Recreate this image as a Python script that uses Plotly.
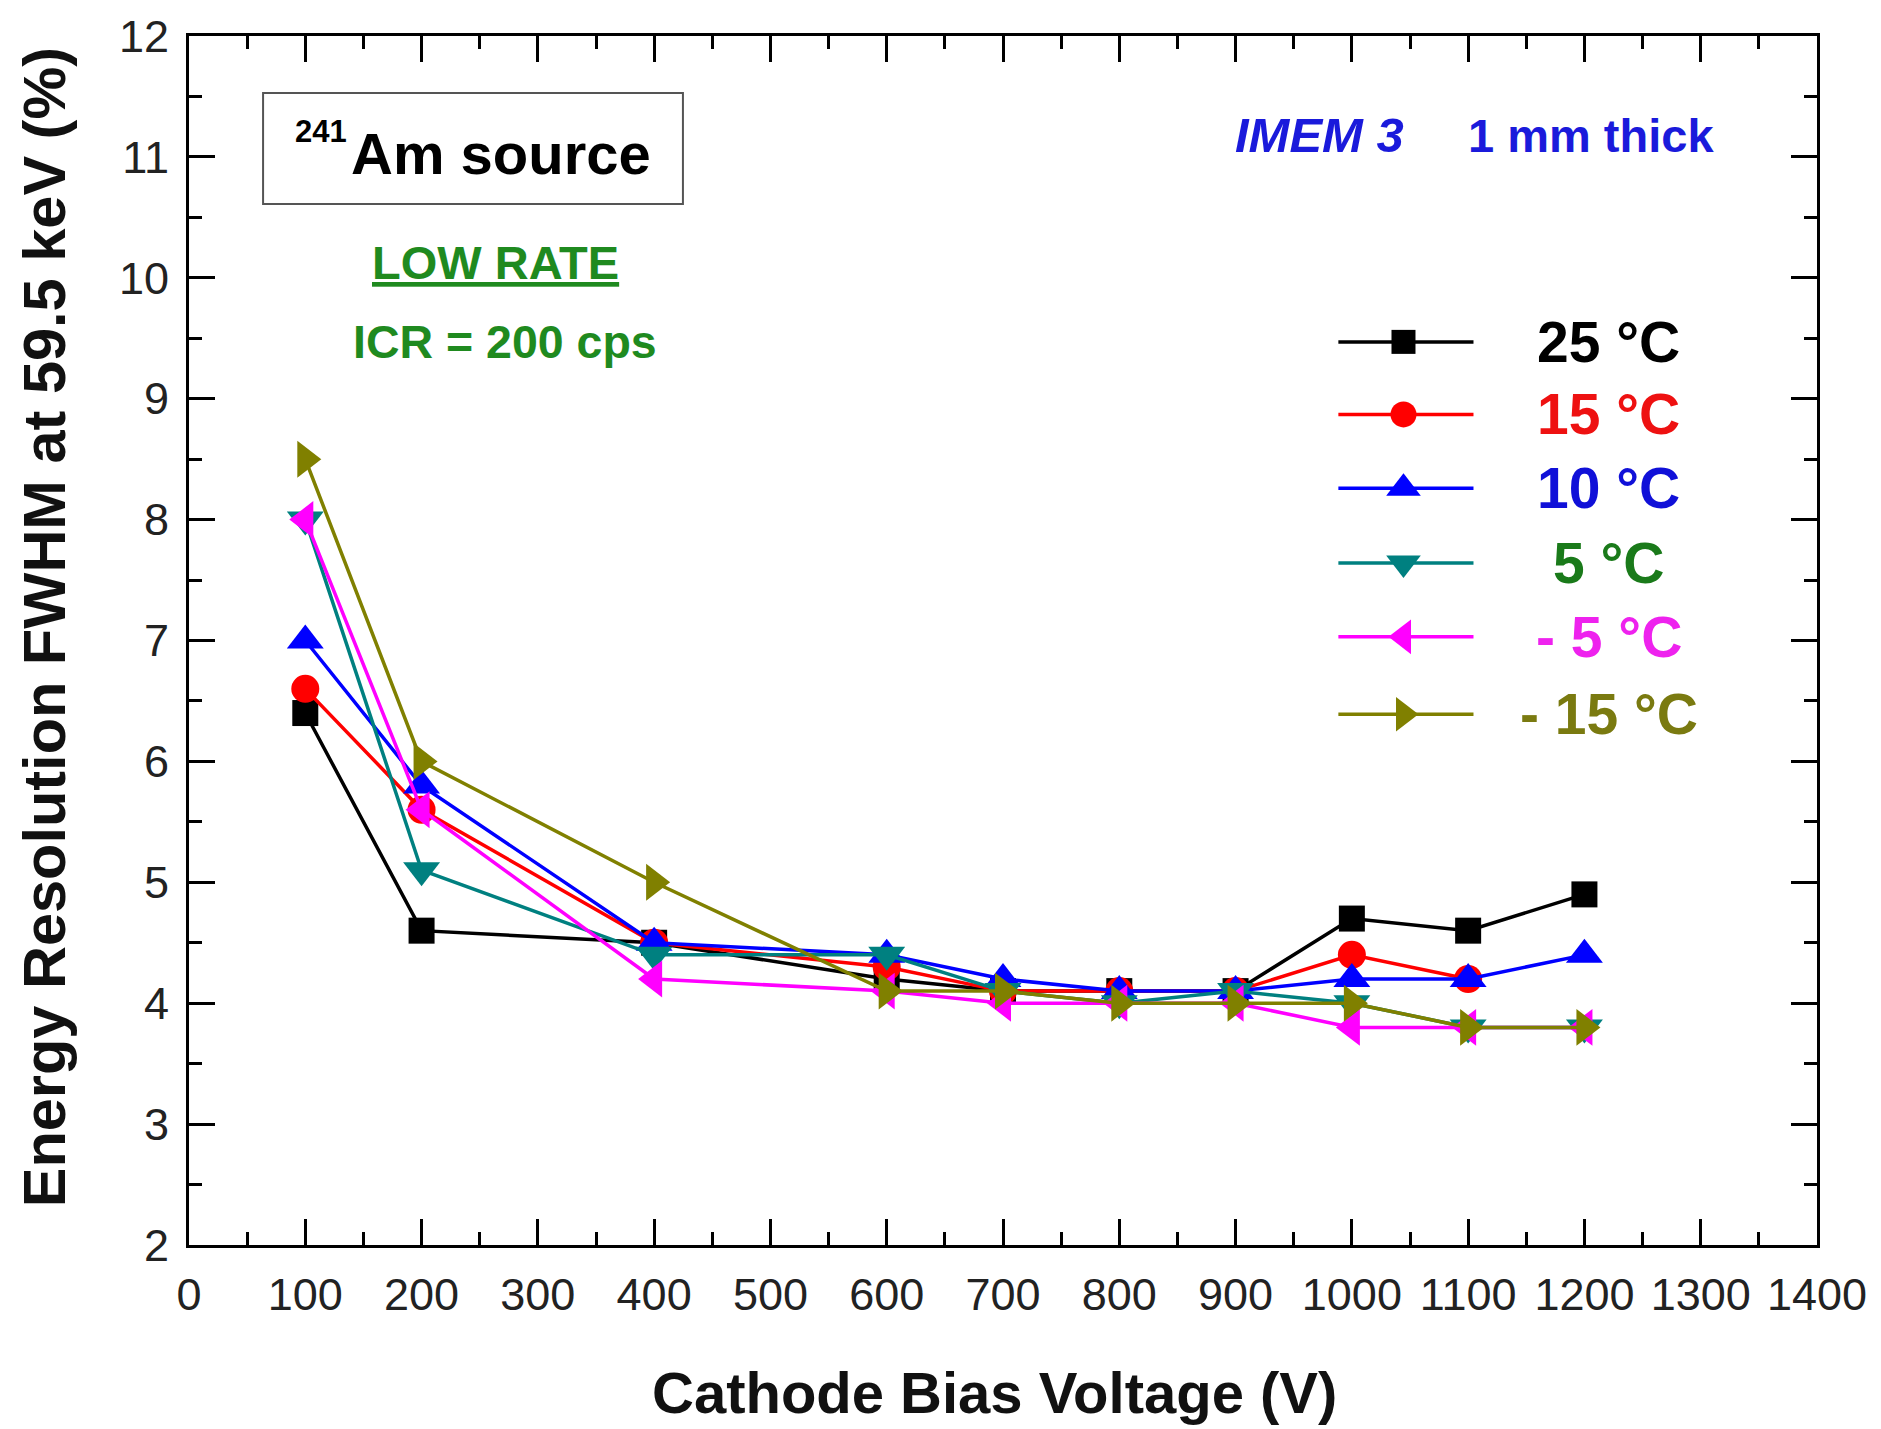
import plotly.graph_objects as go

# ---------------- data ----------------
voltage = [100, 200, 400, 600, 700, 800, 900, 1000, 1100, 1200]
res_25 = [6.4, 4.6, 4.5, 4.2, 4.1, 4.1, 4.1, 4.7, 4.6, 4.9]
res_15 = [6.6, 5.6, 4.5, 4.3, 4.1, 4.1, 4.1, 4.4, 4.2, None]
res_10 = [7.0, 5.8, 4.5, 4.4, 4.2, 4.1, 4.1, 4.2, 4.2, 4.4]
res_5 = [8.0, 5.1, 4.4, 4.4, 4.1, 4.0, 4.1, 4.0, 3.8, 3.8]
res_m5 = [8.0, 5.6, 4.2, 4.1, 4.0, 4.0, 4.0, 3.8, 3.8, 3.8]
res_m15 = [8.5, 6.0, 5.0, 4.1, 4.1, 4.0, 4.0, 4.0, 3.8, 3.8]

series_names = ["25 °C", "15 °C", "10 °C", "5 °C", "- 5 °C", "- 15 °C"]
series_values = [res_25, res_15, res_10, res_5, res_m5, res_m15]
x_tick_values = list(range(0, 1401, 100))
y_tick_values = list(range(2, 13))

# ---------------- styles ----------------
line_colors = ["#000000", "#ff0000", "#0000ff", "#008080", "#ff00ff", "#808000"]
text_colors = ["#000000", "#ee1111", "#1010d8", "#1a7a1a", "#ee22ee", "#7a7a10"]
symbols = ["square", "circle", "triangle-up", "triangle-down", "triangle-left", "triangle-right"]
sizes = [26, 28, 32, 32, 32, 32]
FONT = "Liberation Sans, Arial, sans-serif"

fig = go.Figure()

for name, vals, col, sym, sz in zip(series_names, series_values, line_colors, symbols, sizes):
    xs = [v for v, y in zip(voltage, vals) if y is not None]
    ys = [y for y in vals if y is not None]
    fig.add_trace(go.Scatter(
        x=xs, y=ys, mode="lines+markers", name=name,
        line=dict(color=col, width=3.5),
        marker=dict(symbol=sym, size=sz, color=col, opacity=1),
        showlegend=False,
    ))

# ---------------- manual legend (overlay axes 0..1) ----------------
leg_rows = [0.747, 0.687, 0.626, 0.564, 0.503, 0.439]
leg_x0, leg_xm, leg_x1 = 0.706, 0.746, 0.789
for i, (name, col, sym, sz, tcol, ry) in enumerate(
        zip(series_names, line_colors, symbols, sizes, text_colors, leg_rows)):
    fig.add_trace(go.Scatter(
        x=[leg_x0, leg_x1], y=[ry, ry],
        xaxis="x2", yaxis="y2", mode="lines",
        line=dict(color=col, width=3.5),
        showlegend=False, hoverinfo="skip",
    ))
    fig.add_trace(go.Scatter(
        x=[leg_xm], y=[ry],
        xaxis="x2", yaxis="y2", mode="markers",
        marker=dict(symbol=sym, size=sz - 2, color=col, opacity=1),
        showlegend=False, hoverinfo="skip",
    ))
    fig.add_annotation(
        x=0.8722, y=ry, xref="paper", yref="paper",
        text="<b>%s</b>" % name, showarrow=False,
        xanchor="center", yanchor="middle",
        font=dict(family=FONT, size=57, color=tcol),
    )

# ---------------- annotations ----------------
fig.add_shape(type="rect", xref="paper", yref="paper",
              x0=0.0455, x1=0.3034, y0=0.861, y1=0.9529,
              line=dict(color="#555555", width=2), fillcolor="rgba(0,0,0,0)")
fig.add_annotation(x=0.1916, y=0.9024, xref="paper", yref="paper",
                   text="<b>Am source</b>", showarrow=False,
                   xanchor="center", yanchor="middle",
                   font=dict(family=FONT, size=58, color="#000000"))
fig.add_annotation(x=0.0811, y=0.9214, xref="paper", yref="paper",
                   text="<b>241</b>", showarrow=False,
                   xanchor="center", yanchor="middle",
                   font=dict(family=FONT, size=31, color="#000000"))
fig.add_annotation(x=0.188, y=0.813, xref="paper", yref="paper",
                   text="<b><u>LOW RATE</u></b>", showarrow=False,
                   xanchor="center", yanchor="middle",
                   font=dict(family=FONT, size=47, color="#1f8a1f"))
fig.add_annotation(x=0.194, y=0.747, xref="paper", yref="paper",
                   text="<b>ICR = 200 cps</b>", showarrow=False,
                   xanchor="center", yanchor="middle",
                   font=dict(family=FONT, size=46.5, color="#1f8a1f"))
fig.add_annotation(x=0.6947, y=0.918, xref="paper", yref="paper",
                   text="<b><i>IMEM 3</i></b>", showarrow=False,
                   xanchor="center", yanchor="middle",
                   font=dict(family=FONT, size=49, color="#1a1adb"))
fig.add_annotation(x=0.861, y=0.918, xref="paper", yref="paper",
                   text="<b>1 mm thick</b>", showarrow=False,
                   xanchor="center", yanchor="middle",
                   font=dict(family=FONT, size=47, color="#1a1adb"))

# axis titles
fig.add_annotation(x=0.4945, y=-0.1216, xref="paper", yref="paper",
                   text="<b>Cathode Bias Voltage (V)</b>", showarrow=False,
                   xanchor="center", yanchor="middle",
                   font=dict(family=FONT, size=58, color="#111111"))
fig.add_annotation(x=-0.089, y=0.511, xref="paper", yref="paper",
                   text="<b>Energy Resolution FWHM at 59.5 keV (%)</b>", showarrow=False,
                   textangle=-90, xanchor="center", yanchor="middle",
                   font=dict(family=FONT, size=59.5, color="#111111"))

axis_common = dict(
    showline=True, linecolor="#000000", linewidth=3, mirror="allticks",
    ticks="inside", ticklen=26, tickwidth=3, tickcolor="#000000",
    showgrid=False, zeroline=False,
    tickfont=dict(family=FONT, size=45, color="#222222"),
)

fig.update_layout(
    width=1881, height=1429,
    margin=dict(l=189, r=64, t=36, b=184),
    plot_bgcolor="white", paper_bgcolor="white",
    xaxis=dict(range=[0, 1400], tickvals=x_tick_values, ticklabelstandoff=8,
               minor=dict(ticks="inside", ticklen=13, tickwidth=3, dtick=50,
                          tick0=0, tickcolor="#000000"),
               **axis_common),
    yaxis=dict(range=[2, 12], tickvals=y_tick_values, ticklabelstandoff=8,
               minor=dict(ticks="inside", ticklen=13, tickwidth=3, dtick=0.5,
                          tick0=2, tickcolor="#000000"),
               **axis_common),
    xaxis2=dict(overlaying="x", range=[0, 1], visible=False),
    yaxis2=dict(overlaying="y", range=[0, 1], visible=False),
    showlegend=False,
)

fig.write_html("out.html")
